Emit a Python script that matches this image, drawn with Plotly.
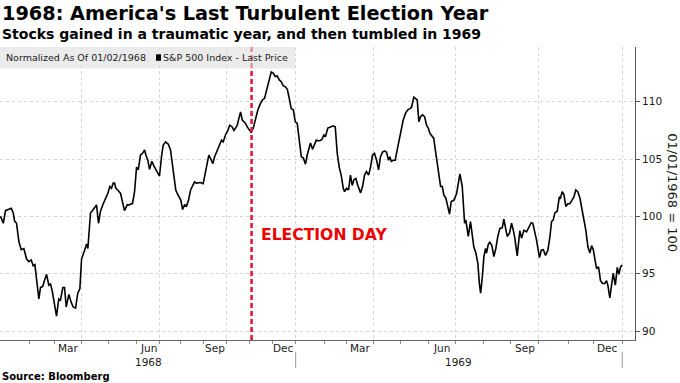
import plotly.graph_objects as go

# ---------------- data ----------------
# x = trading-session index since 01/02/1968 (NYSE closed Wednesdays in H2 1968)
trading_day = [
    0, 2.1, 3.8, 6.3, 8.2, 9.7, 10.7, 12.2, 14.0, 15.8, 17.8, 19.8, 21.6, 23.4, 24.9, 26.2,
    27.4, 29.2, 30.5, 32.2, 33.5, 35.1, 36.8, 38.1, 39.4, 40.6, 42.7, 44.4, 45.7, 47.5, 48.8,
    50.1, 52.1, 53.9, 55.4, 57.2, 58.9, 60.5, 61.8, 64.0, 65.6, 66.6, 68.6, 70.7, 73.2, 74.7,
    76.2, 78.3, 80.1, 81.8, 83.3, 84.6, 85.9, 86.9, 87.9, 89.4, 91.5, 93.0, 94.5, 96.6, 98.1,
    99.6, 100.6, 102.2, 103.7, 105.0, 106.7, 108.3, 109.8, 110.8, 112.3, 113.6, 115.4, 116.9,
    118.4, 119.9, 121.2, 122.7, 124.0, 125.8, 127.9, 129.6, 130.9, 132.1, 133.6, 134.7, 136.2,
    137.5, 138.8, 140.3, 141.8, 143.3, 144.9, 146.4, 147.9, 149.4, 151.2, 152.5, 154.5, 156.3,
    157.6, 158.8, 160.1, 161.9, 163.2, 165.2, 167.0, 168.5, 169.8, 171.5, 173.3, 174.8, 176.6,
    177.9, 179.2, 180.5, 181.7, 183.0, 184.3, 185.5, 186.8, 188.1, 189.6, 191.1, 192.7, 194.4,
    196.2, 198.2, 199.7, 201.3, 202.8, 204.6, 206.4, 207.9, 209.4, 211.0, 212.5, 214.0, 215.5,
    217.1, 218.6, 220.1, 221.6, 223.2, 224.7, 226.2, 227.7, 229.3, 230.8, 232.5, 233.8, 235.1,
    236.3, 237.9, 239.4, 240.7, 241.9, 243.4, 245.0, 246.5, 247.8, 249.5, 251.6, 253.6, 255.2,
    256.7, 258.2, 259.7, 261.3, 262.3, 263.8, 265.3, 266.8, 268.1, 269.4, 270.9, 272.4, 274.5,
    276.0, 277.5, 279.0, 280.6, 282.1, 283.6, 285.1, 286.7, 288.2, 289.7, 291.2, 292.8, 294.3,
    295.8, 296.8, 297.9, 299.4, 300.9, 302.4, 304.0, 305.5, 307.0, 308.8, 310.5, 312.1, 313.3,
    315.1, 316.6, 317.7, 318.9, 320.2, 321.7, 323.3, 324.8, 326.1, 327.3, 329.1, 330.3, 331.1,
    332.9, 334.2, 335.5, 336.8, 338.0, 339.5, 341.0, 342.3, 343.6, 345.6, 347.7, 350.2, 352.0,
    353.8, 354.7, 356.6, 358.3, 359.6, 360.8, 362.4, 363.9, 365.0, 366.0, 367.3, 368.5, 369.8,
    370.5, 371.8, 373.0, 374.6, 376.1, 377.6, 379.1, 380.7, 382.5, 383.7, 385.0, 386.3, 388.1,
    389.6, 390.9, 392.1, 393.9, 395.2, 395.9, 397.2, 399.0, 401.0, 402.8, 404.6, 405.8, 407.1,
    408.6, 409.9, 410.9, 412.2, 413.8, 415.5, 417.3, 418.8, 420.1, 421.4, 422.6, 424.4, 426.0,
    426.9, 428.2, 429.5, 431.0, 432.5, 434.0, 435.6, 437.1, 438.6, 440.1, 441.7, 443.2, 444.7,
    446.2, 447.8, 449.3, 450.6, 451.9, 453.1, 454.4, 455.9, 457.4, 459.0, 460.7, 462.0, 463.0,
    464.5, 465.8, 467.1, 468.7, 470.2, 471.4, 472.7, 474.0,
]

sp_norm = [
    100.0, 99.4, 100.5, 100.6, 100.7, 100.3, 99.6, 99.4, 97.8, 97.1, 97.2, 96.3, 96.05, 96.2, 95.7, 95.8,
    94.4, 92.8, 93.8, 93.9, 94.4, 94.95, 94.0, 94.1, 93.5, 92.8, 91.3, 92.8, 92.7, 93.8, 93.8,
    92.1, 93.2, 92.5, 92.1, 92.0, 93.3, 93.7, 96.3, 97.0, 97.6, 97.2, 100.3, 100.6, 101.0, 99.4,
    100.45, 101.1, 101.6, 102.0, 102.6, 102.45, 102.9, 102.9, 102.45, 102.3, 102.0, 101.3, 100.5, 101.0, 101.0,
    101.1, 101.1, 102.15, 104.3, 104.05, 105.35, 105.5, 105.8, 105.35, 104.9, 104.1, 104.8, 104.4,
    104.05, 103.8, 103.5, 105.2, 106.2, 106.5, 106.3, 105.8, 104.6, 103.2, 102.3, 102.0, 101.7,
    101.4, 100.6, 101.0, 100.9, 101.4, 102.3, 102.6, 103.0, 102.9, 102.9, 102.95, 102.85, 104.05,
    104.9, 105.35, 105.05, 104.6, 105.2, 105.8, 106.2, 106.65, 106.5, 107.1, 107.5, 107.95, 107.8,
    107.5, 107.7, 107.95, 108.55, 109.1, 108.4, 108.25, 108.1, 107.8, 107.5, 107.3, 107.7, 108.4,
    109.3, 109.85, 110.15, 110.3, 111.0, 112.0, 112.6, 112.5, 112.2, 112.25, 111.9, 111.75, 111.4,
    111.3, 111.1, 110.3, 109.4, 109.3, 108.25, 108.1, 106.4, 105.2, 105.1, 104.55, 105.35, 105.85,
    106.4, 105.85, 106.2, 106.65, 106.6, 106.6, 106.7, 107.1, 107.0, 107.7, 107.8, 107.9, 107.8,
    105.5, 104.3, 103.6, 102.45, 102.15, 102.45, 102.3, 103.6, 102.7, 103.2, 103.3, 102.7, 102.05,
    102.6, 103.6, 103.9, 103.6, 104.3, 105.35, 105.5, 104.9, 104.05, 105.2, 105.6, 105.7, 105.6,
    104.9, 105.2, 104.8, 104.9, 104.9, 105.8, 106.65, 107.7, 108.4, 109.0, 109.3, 109.4, 109.5,
    110.4, 110.2, 110.15, 108.25, 108.7, 108.85, 108.7, 107.95, 107.7, 107.25, 106.95, 106.8, 106.1,
    104.6, 103.8, 102.6, 102.6, 101.85, 101.6, 100.9, 100.2, 101.3, 101.4, 102.0, 103.7, 102.6,
    99.4, 99.7, 98.25, 99.55, 98.25, 97.35, 96.8, 95.9, 94.2, 93.3, 94.7, 96.5, 97.2,
    96.8, 97.55, 97.75, 97.45, 96.5, 97.2, 98.25, 98.95, 99.0, 99.75, 98.8, 98.25, 98.55,
    99.4, 98.8, 98.1, 96.55, 97.95, 98.75, 98.1, 98.8, 98.65, 99.1, 99.45, 99.4, 98.8,
    97.95, 97.05, 96.4, 97.05, 97.1, 96.6, 97.05, 98.2, 99.55, 99.7, 100.3, 100.45, 101.7,
    101.6, 102.15, 101.9, 100.85, 101.1, 101.1, 101.4, 101.7, 102.3, 102.15, 101.6, 100.6, 99.95,
    98.8, 97.35, 96.8, 97.45, 97.1, 96.3, 95.45, 95.6, 94.4, 94.15, 94.15, 94.4, 94.0,
    92.9, 94.1, 95.05, 94.0, 95.55, 94.95, 95.6, 95.75,
]

# first trading session of each month (Jan 1968 .. Jan 1970)
month_starts = [0, 22, 41, 62, 82, 104, 121, 137, 155, 172, 190, 207,
                225, 247, 264, 284, 305, 326, 347, 368, 389, 410, 433, 452, 474]
month_names = ["Jan", "Feb", "Mar", "Apr", "May", "Jun",
               "Jul", "Aug", "Sep", "Oct", "Nov", "Dec"] * 2
labelled_months = ["Mar", "Jun", "Sep", "Dec"]
quarter_bounds = [62, 121, 172, 225, 284, 347, 410, 474]
year_labels = ["1968", "1969"]
year_bounds = [0, 225, 474]
election_day = 191.4
y_ticks = [90, 95, 100, 105, 110]

# ---------------- figure ----------------
FONT = "DejaVu Sans"
fig = go.Figure()
fig.add_trace(go.Scatter(
    x=trading_day, y=sp_norm, mode="lines",
    line=dict(color="#000000", width=1.6), hoverinfo="skip", showlegend=False,
))

fig.update_layout(
    width=680, height=383,
    margin=dict(l=0, r=45, t=47, b=43),
    paper_bgcolor="white", plot_bgcolor="white",
    font=dict(family=FONT, color="#1a1a1a", size=10.5),
    showlegend=False,
    xaxis=dict(
        range=[-0.4, 483.7], tickvals=quarter_bounds, showticklabels=False,
        showgrid=True, gridcolor="#d4d4d4", griddash="dot", gridwidth=1,
        ticks="outside", ticklen=3, tickcolor="#888888",
        minor=dict(tickvals=month_starts[1:], ticks="outside", ticklen=3,
                   tickcolor="#888888", showgrid=False),
        showline=True, linecolor="#666666", linewidth=1, zeroline=False,
    ),
    yaxis=dict(
        range=[89.22, 114.77], side="right", tickvals=y_ticks,
        showgrid=True, gridcolor="#d4d4d4", griddash="dot", gridwidth=1,
        ticks="outside", ticklen=4, tickcolor="#555555",
        showline=True, linecolor="#555555", linewidth=1, zeroline=False,
        tickfont=dict(size=10.5, color="#1a1a1a"),
    ),
)

# election-day marker
fig.add_shape(type="line", xref="x", yref="paper", x0=election_day, x1=election_day,
              y0=0, y1=1, line=dict(color="#e8193c", width=2.6, dash="5px,3px"), layer="above")

# legend box
fig.add_shape(type="rect", xref="paper", yref="paper", x0=0, x1=0.4646, y0=0.927, y1=1.0,
              fillcolor="rgba(222,222,222,0.62)", line=dict(width=0), layer="above")
fig.add_shape(type="rect", xref="paper", yref="paper", x0=0.2457, x1=0.2535, y0=0.953, y1=0.975,
              fillcolor="#000000", line=dict(width=0), layer="above")

ann = []
ann.append(dict(text="Normalized As Of 01/02/1968", x=0.006, y=0.964, xref="paper", yref="paper",
                xanchor="left", yanchor="middle", showarrow=False, font=dict(size=9.5, color="#222")))
ann.append(dict(text="S&P 500 Index - Last Price", x=0.254, y=0.964, xref="paper", yref="paper",
                xanchor="left", yanchor="middle", showarrow=False, font=dict(size=9.5, color="#222")))

# titles
ann.append(dict(text="<b>1968: America's Last Turbulent Election Year</b>", x=0, y=1.116,
                xref="paper", yref="paper", xanchor="left", yanchor="middle", showarrow=False,
                font=dict(size=19.3, color="#000")))
ann.append(dict(text="<b>Stocks gained in a traumatic year, and then tumbled in 1969</b>", x=0, y=1.044,
                xref="paper", yref="paper", xanchor="left", yanchor="middle", showarrow=False,
                font=dict(size=14, color="#000")))
ann.append(dict(text="<b>Source: Bloomberg</b>", x=0, y=-0.125, xref="paper", yref="paper",
                xanchor="left", yanchor="middle", showarrow=False, font=dict(size=10, color="#000")))

# election text
ann.append(dict(text="<b>ELECTION DAY</b>", x=0.4075, y=0.358, xref="paper", yref="paper",
                xanchor="left", yanchor="middle", showarrow=False, font=dict(size=15.6, color="#ee0000")))

# y-axis title (rotated, reading downward)
ann.append(dict(text="01/01/1968 = 100", x=1.0578, y=0.502, xref="paper", yref="paper",
                xanchor="center", yanchor="middle", textangle=90, showarrow=False,
                font=dict(size=13, color="#1a1a1a")))

# month labels
for i, name in enumerate(month_names):
    if name in labelled_months:
        ann.append(dict(text=name, x=(month_starts[i] + month_starts[i + 1]) / 2, y=-0.026,
                        xref="x", yref="paper", xanchor="center", yanchor="middle",
                        showarrow=False, font=dict(size=10.5, color="#1a1a1a")))
# year labels + separators
for j, yl in enumerate(year_labels):
    ann.append(dict(text=yl, x=(year_bounds[j] + year_bounds[j + 1]) / 2, y=-0.076,
                    xref="x", yref="paper", xanchor="center", yanchor="middle",
                    showarrow=False, font=dict(size=10.5, color="#1a1a1a")))
    fig.add_shape(type="line", xref="x", yref="paper", x0=year_bounds[j + 1], x1=year_bounds[j + 1],
                  y0=-0.040, y1=-0.0956, line=dict(color="#999999", width=1))

fig.update_layout(annotations=ann)
fig.write_html("out.html", config={"displayModeBar": False},
               post_script="document.body.style.margin='0';")
